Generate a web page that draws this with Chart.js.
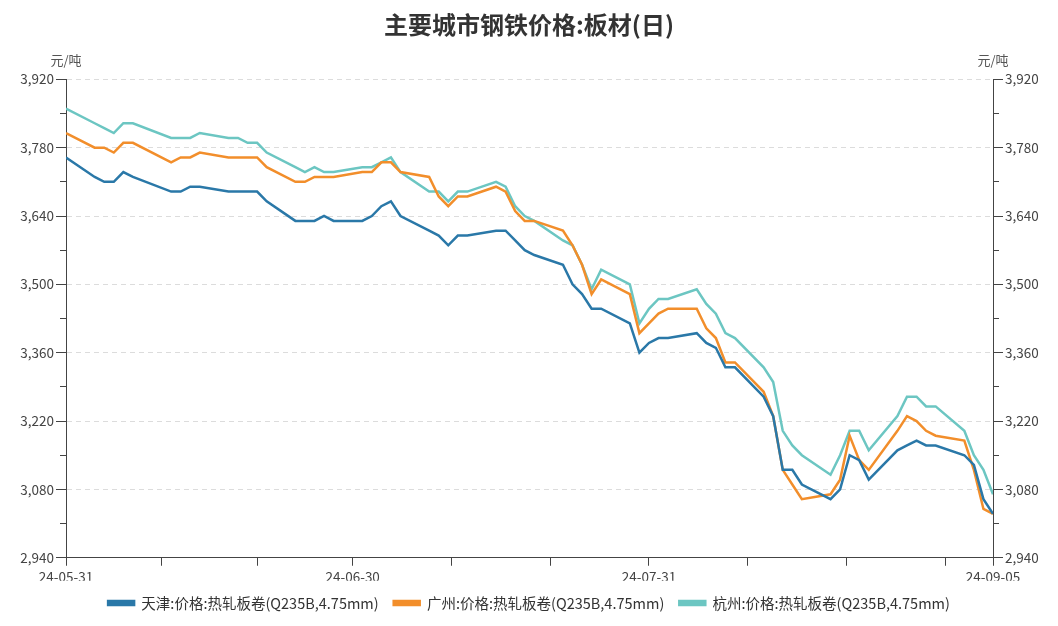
<!DOCTYPE html>
<html><head><meta charset="utf-8">
<script src="https://cdn.jsdelivr.net/npm/chart.js@4.4.1/dist/chart.umd.min.js"></script>
<style>html,body{margin:0;padding:0;background:#fff}#wrap{width:1058px;height:626px;position:relative}</style>
</head><body><div id="wrap"><canvas id="c"></canvas></div>
<script>
const chartTitle = '主要城市钢铁价格:板材(日)';
const unitLabel = '元/吨';
const seriesNames = ['天津:价格:热轧板卷(Q235B,4.75mm)', '广州:价格:热轧板卷(Q235B,4.75mm)', '杭州:价格:热轧板卷(Q235B,4.75mm)'];
const seriesColors = ['#2a78a8', '#f28e2b', '#6cc6c2'];

const dates = [
 '2024-05-31',
 '2024-06-03','2024-06-04','2024-06-05','2024-06-06','2024-06-07',
 '2024-06-11','2024-06-12','2024-06-13','2024-06-14',
 '2024-06-17','2024-06-18','2024-06-19','2024-06-20','2024-06-21',
 '2024-06-24','2024-06-25','2024-06-26','2024-06-27','2024-06-28',
 '2024-07-01','2024-07-02','2024-07-03','2024-07-04','2024-07-05',
 '2024-07-08','2024-07-09','2024-07-10','2024-07-11','2024-07-12',
 '2024-07-15','2024-07-16','2024-07-17','2024-07-18','2024-07-19',
 '2024-07-22','2024-07-23','2024-07-24','2024-07-25','2024-07-26',
 '2024-07-29','2024-07-30','2024-07-31','2024-08-01','2024-08-02',
 '2024-08-05','2024-08-06','2024-08-07','2024-08-08','2024-08-09',
 '2024-08-12','2024-08-13','2024-08-14','2024-08-15','2024-08-16',
 '2024-08-19','2024-08-20','2024-08-21','2024-08-22','2024-08-23',
 '2024-08-26','2024-08-27','2024-08-28','2024-08-29','2024-08-30',
 '2024-09-02','2024-09-03','2024-09-04','2024-09-05'
];

const tianjin = [
 3760,
 3720,3710,3710,3730,3720,
 3690,3690,3700,3700,
 3690,3690,3690,3690,3670,
 3630,3630,3630,3640,3630,
 3630,3640,3660,3670,3640,
 3610,3600,3580,3600,3600,
 3610,3610,3590,3570,3560,
 3540,3500,3480,3450,3450,
 3420,3360,3380,3390,3390,
 3400,3380,3370,3330,3330,
 3270,3230,3120,3120,3090,
 3060,3080,3150,3140,3100,
 3160,3170,3180,3170,3170,
 3150,3130,3060,3030
];
const guangzhou = [
 3810,
 3780,3780,3770,3790,3790,
 3750,3760,3760,3770,
 3760,3760,3760,3760,3740,
 3710,3710,3720,3720,3720,
 3730,3730,3750,3750,3730,
 3720,3680,3660,3680,3680,
 3700,3690,3650,3630,3630,
 3610,3580,3540,3480,3510,
 3480,3400,3420,3440,3450,
 3450,3410,3390,3340,3340,
 3280,3230,3120,3090,3060,
 3070,3100,3190,3140,3120,
 3200,3230,3220,3200,3190,
 3180,3120,3040,3030
];
const hangzhou = [
 3860,
 3830,3820,3810,3830,3830,
 3800,3800,3800,3810,
 3800,3800,3790,3790,3770,
 3740,3730,3740,3730,3730,
 3740,3740,3750,3760,3730,
 3690,3690,3670,3690,3690,
 3710,3700,3660,3640,3630,
 3590,3580,3540,3490,3530,
 3500,3420,3450,3470,3470,
 3490,3460,3440,3400,3390,
 3330,3300,3200,3170,3150,
 3110,3150,3200,3200,3160,
 3230,3270,3270,3250,3250,
 3200,3150,3120,3070
];

const xTickLabels = ['24-05-31', '24-06-30', '24-07-31', '24-09-05'];
const monthEnds = ['2024-05-31', '2024-06-30', '2024-07-31', '2024-08-31'];
const yMin = 2940, yMax = 3920, yMajorStep = 140, yMinorStep = 70;

// ---- helpers ----
function dayNum(s) { const p = s.split('-').map(Number); return Date.UTC(p[0], p[1]-1, p[2]) / 86400000; }
const base = dayNum(dates[0]);
const xOf = s => dayNum(s) - base;
const lastDay = xOf(dates[dates.length-1]);
const labelMap = {};
xTickLabels.forEach(l => { labelMap[xOf('20' + l)] = l; });
const tickDays = [];
for (let i = 0; i < monthEnds.length; i++) {
  const a = xOf(monthEnds[i]);
  tickDays.push(a);
  const b = i + 1 < monthEnds.length ? xOf(monthEnds[i+1]) : null;
  if (b !== null) { tickDays.push(a + (b-a)/3, a + 2*(b-a)/3); }
}
tickDays.push(lastDay);

const seriesData = [tianjin, guangzhou, hangzhou];
const FONT = '"Noto Sans CJK SC", "Noto Sans", sans-serif';

const unitPlugin = {
  id: 'unitPlugin',
  afterDraw(chart) {
    const ctx = chart.ctx;
    ctx.save();
    ctx.font = '13px ' + FONT;
    ctx.fillStyle = '#555';
    ctx.textAlign = 'center';
    ctx.textBaseline = 'middle';
    ctx.fillText(unitLabel, chart.scales.yL.right, 60);
    ctx.fillText(unitLabel, chart.scales.yR.left, 60);
    ctx.restore();
  }
};

const majorY = (pos, id, weight) => ({
  type: 'linear', position: pos, min: yMin, max: yMax, weight: weight,
  afterBuildTicks(s) { const t = []; for (let v = yMin; v <= yMax; v += yMajorStep) t.push({value: v}); s.ticks = t; },
  ticks: { stepSize: yMajorStep, padding: 2, color: '#444', font: { size: 13.5, family: FONT },
           callback: v => v.toLocaleString('en-US') },
  grid: { drawOnChartArea: pos === 'left', color: '#dcdcdc', tickColor: '#444', tickLength: 10, lineWidth: 1 },
  border: { display: true, color: '#444', width: 1, dash: [5, 4] },
  afterFit(s) { s.width = pos === 'left' ? 66 : 65; }
});
const minorY = (pos) => ({
  type: 'linear', position: pos, min: yMin, max: yMax, weight: 0,
  afterBuildTicks(s) { const t = []; for (let v = yMin; v <= yMax; v += yMinorStep) t.push({value: v}); s.ticks = t; },
  ticks: { display: false },
  grid: { drawOnChartArea: false, tickColor: '#444', tickLength: 6 },
  border: { display: false },
  afterFit(s) { s.width = 0; }
});

new Chart(document.getElementById('c'), {
  type: 'line',
  data: {
    datasets: seriesNames.map((n, i) => ({
      label: n,
      data: dates.map((d, k) => ({ x: xOf(d), y: seriesData[i][k] })),
      borderColor: seriesColors[i],
      backgroundColor: seriesColors[i],
      borderWidth: 2.5,
      pointRadius: 0,
      pointHoverRadius: 0,
      tension: 0,
      fill: false,
      yAxisID: 'yL'
    }))
  },
  options: {
    responsive: true,
    maintainAspectRatio: false,
    animation: false,
    layout: { padding: { left: 0, right: 0, top: 0, bottom: 5.75 } },
    plugins: {
      title: { display: true, text: chartTitle, color: '#333',
               font: { size: 24, weight: 'bold', family: FONT },
               padding: { top: 10, bottom: 40.5 } },
      legend: { position: 'bottom',
                labels: { boxWidth: 26, boxHeight: 4, padding: 15, color: '#333',
                          font: { size: 14.5, family: FONT } } },
      tooltip: { enabled: false }
    },
    scales: {
      x: {
        type: 'linear', min: 0, max: lastDay,
        afterBuildTicks(s) { s.ticks = tickDays.map(v => ({ value: v })); },
        ticks: { autoSkip: false, maxRotation: 0, padding: 3, color: '#444',
                 font: { size: 13.5, family: FONT },
                 callback: v => labelMap[v] || '' },
        grid: { drawOnChartArea: false, tickColor: '#444', tickLength: 8 },
        border: { display: true, color: '#444', width: 1 },
        afterFit(s) { s.height = 23; }
      },
      yL: majorY('left', 'yL', 1),
      yLm: minorY('left'),
      yR: majorY('right', 'yR', 1),
      yRm: minorY('right')
    }
  },
  plugins: [unitPlugin]
});
</script></body></html>
